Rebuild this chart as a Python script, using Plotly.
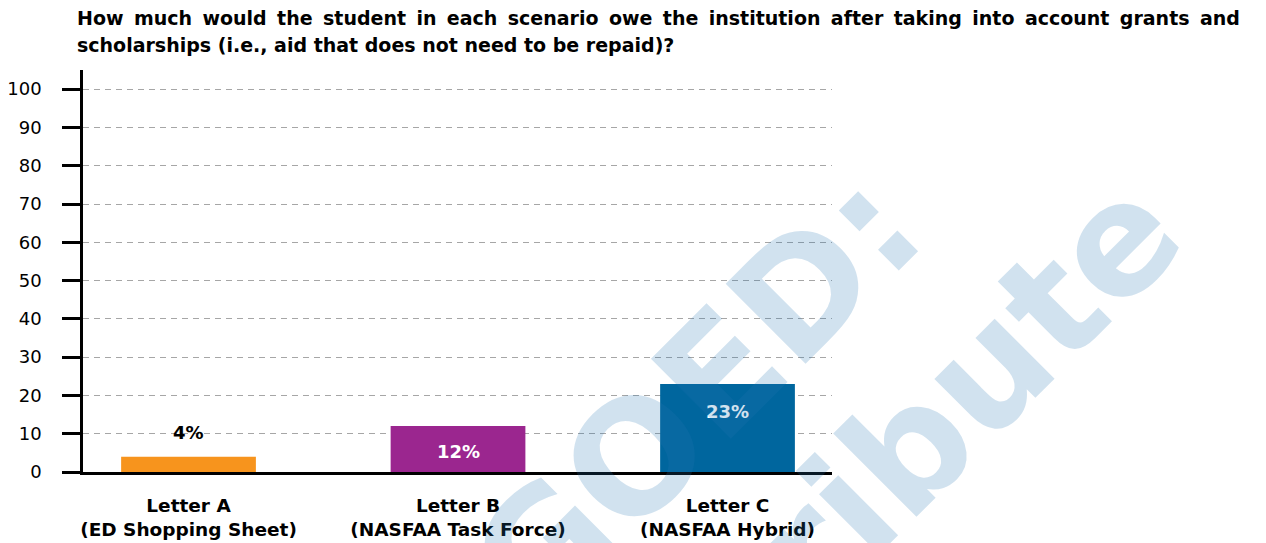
import plotly.graph_objects as go

# Survey results: share of respondents per award letter
categories = ["Letter A<br>(ED Shopping Sheet)",
              "Letter B<br>(NASFAA Task Force)",
              "Letter C<br>(NASFAA Hybrid)"]
values = [4, 12, 23]
bar_colors = ["#F7941D", "#9B268F", "#00669E"]
y_ticks = [0, 10, 20, 30, 40, 50, 60, 70, 80, 90, 100]

title_lines = [
    "How much would the student in each scenario owe the institution after taking into account grants and",
    "scholarships (i.e., aid that does not need to be repaid)?",
]
watermark_lines = ["EMBARGOED:", "Do Not Distribute"]

W, H = 1266, 543
L, R, T, B = 83, 434, 70, 71
FONT = "DejaVu Sans"

def px_x(px):
    return (px - L) / (W - L - R)

def px_y(py):
    return (H - B - py) / (H - T - B)

fig = go.Figure()
fig.add_trace(go.Bar(
    x=list(range(len(categories))),
    y=values,
    width=0.5,
    marker=dict(color=bar_colors, line=dict(width=0)),
    hoverinfo="skip",
))

# value labels: first above its bar, the others inside
label_cfg = [
    dict(yanchor="middle", yshift=24, color="black"),
    dict(yanchor="middle", yshift=-25, color="white"),
    dict(yanchor="middle", yshift=-28, color="white"),
]
annotations = []
for i, (v, cfg) in enumerate(zip(values, label_cfg)):
    annotations.append(dict(
        x=i, y=v, xref="x", yref="y", text=f"{v}%", showarrow=False,
        xanchor="center", yanchor=cfg["yanchor"], yshift=cfg["yshift"],
        font=dict(family=FONT, size=18, color=cfg["color"], weight=700),
    ))

# two-line heading; the first line is spread out (justified) with thin spaces
heading = [title_lines[0].replace(" ", " \u2009"), title_lines[1]]
for line, ypx in zip(heading, [17.7, 45.4]):
    annotations.append(dict(
        x=px_x(74.5), y=px_y(ypx), xref="paper", yref="paper", text=line,
        showarrow=False, xanchor="left", yanchor="middle",
        font=dict(family=FONT, size=19, color="black", weight=700),
    ))

# diagonal watermark, one annotation per line
for line, (cx, cy) in zip(watermark_lines, [(477, 616), (611, 746)]):
    annotations.append(dict(
        x=px_x(cx), y=px_y(cy), xref="paper", yref="paper", text=line,
        showarrow=False, xanchor="center", yanchor="middle", textangle=-45,
        font=dict(family=FONT, size=155, color="rgba(40,120,180,0.21)", weight=700),
    ))

fig.update_layout(
    width=W, height=H,
    margin=dict(l=L, r=R, t=T, b=B, pad=0),
    plot_bgcolor="white", paper_bgcolor="white",
    showlegend=False,
    annotations=annotations,
    xaxis=dict(
        range=[-0.3915, 2.3877],
        tickvals=list(range(len(categories))), ticktext=categories,
        showgrid=False, zeroline=False,
        showline=True, linecolor="black", linewidth=3,
        ticks="", ticklabelstandoff=15,
        tickfont=dict(family=FONT, size=18.5, color="black", weight=700),
        automargin=False, fixedrange=True,
    ),
    yaxis=dict(
        range=[0, 105],
        tickvals=y_ticks,
        showgrid=True, gridcolor="#A6A6A6", gridwidth=1.3, griddash="6px,5px",
        zeroline=False,
        showline=True, linecolor="black", linewidth=2.5,
        ticks="outside", ticklen=18, tickwidth=2.5, tickcolor="black",
        ticklabelstandoff=17,
        tickfont=dict(family=FONT, size=18, color="black"),
        automargin=False, fixedrange=True,
    ),
)

fig.write_html("out.html", config={"displayModeBar": False})
